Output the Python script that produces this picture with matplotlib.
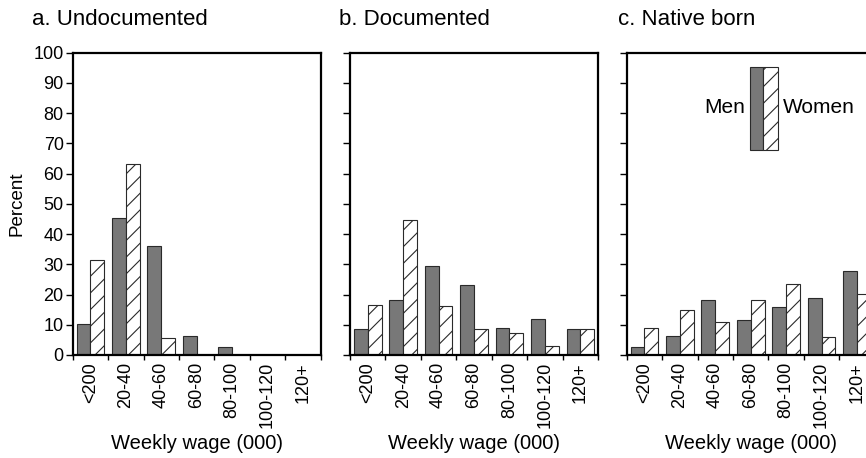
import numpy as np
import matplotlib
matplotlib.use('Agg')
from matplotlib import pyplot as plt
from matplotlib.patches import Rectangle

plt.rcParams['font.family'] = ['Liberation Sans', 'DejaVu Sans']
plt.rcParams['hatch.linewidth'] = 0.8

# Wage brackets and percentages
categories = ['<200', '20-40', '40-60', '60-80', '80-100', '100-120', '120+']
titles = ['a. Undocumented', 'b. Documented', 'c. Native born']

undoc_men = [10.1, 45.2, 36.2, 6.4, 2.5, 0, 0]
undoc_women = [31.4, 63.1, 5.5, 0, 0, 0, 0]
doc_men = [8.5, 18.1, 29.3, 23.0, 8.8, 11.9, 8.5]
doc_women = [16.4, 44.7, 16.3, 8.5, 7.2, 2.9, 8.5]
native_men = [2.5, 6.3, 18.3, 11.6, 15.8, 18.8, 27.7]
native_women = [8.9, 15.0, 10.9, 18.3, 23.6, 6.1, 20.1]

men_data = [undoc_men, doc_men, native_men]
women_data = [undoc_women, doc_women, native_women]

men_color = '#787878'
edge_color = '#2a2a2a'
bar_w = 0.39

fig = plt.figure(figsize=(8.66, 4.58), dpi=100)
lefts = [0.0839, 0.4042, 0.7237]
title_x = [-0.165, -0.044, -0.036]

x = np.arange(len(categories))
for i in range(3):
  ax = fig.add_axes([lefts[i], 0.2249, 0.2864, 0.6601])
  ax.bar(x + 0.5, men_data[i], width=-bar_w, align='edge', color=men_color,
         edgecolor=edge_color, linewidth=0.8)
  ax.bar(x + 0.5, women_data[i], width=bar_w, align='edge', color='white',
         edgecolor=edge_color, linewidth=0.8, hatch='//')
  ax.set_xlim(0, 7)
  ax.set_ylim(0, 100)
  ax.set_yticks(np.arange(0, 101, 10))
  ax.set_xticks(np.arange(0, 8))
  ax.set_xticklabels([])
  ax.set_xticks(x + 0.5, minor=True)
  ax.set_xticklabels(categories, minor=True, rotation=90, fontsize=13)
  ax.tick_params(axis='x', which='minor', length=0, pad=5)
  ax.tick_params(axis='x', which='major', length=3.6, width=1, direction='out')
  ax.tick_params(axis='y', length=5, width=1, direction='out', labelsize=13, pad=1.5)
  for s in ax.spines.values():
    s.set_linewidth(1.6)
  if i > 0:
    ax.set_yticklabels([])
  else:
    ax.set_ylabel('Percent', fontsize=13.5)
    ax.yaxis.set_label_coords(-0.19, 0.5)
  ax.set_xlabel('Weekly wage (000)', fontsize=14.5)
  ax.xaxis.set_label_coords(0.5, -0.262)
  ax.text(title_x[i], 1.09, titles[i], transform=ax.transAxes, ha='left',
          va='baseline', fontsize=16)
  if i == 2:
    # hand-drawn legend box
    ax.add_patch(Rectangle((0.497, 0.679), 0.052, 0.275, transform=ax.transAxes,
                           facecolor=men_color, edgecolor=edge_color, linewidth=0.8))
    ax.add_patch(Rectangle((0.549, 0.679), 0.06, 0.275, transform=ax.transAxes,
                           facecolor='white', edgecolor=edge_color, linewidth=0.8, hatch='//'))
    ax.text(0.478, 0.818, 'Men', transform=ax.transAxes, ha='right', va='center', fontsize=15)
    ax.text(0.63, 0.818, 'Women', transform=ax.transAxes, ha='left', va='center', fontsize=15)

fig.savefig('out.png', dpi=100)
